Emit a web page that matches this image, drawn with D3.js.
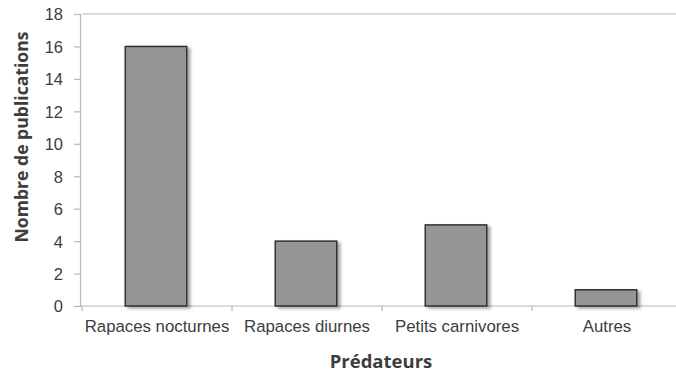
<!DOCTYPE html>
<html>
<head>
<meta charset="utf-8">
<script src="https://cdn.jsdelivr.net/npm/d3@7"></script>
<style>
  html, body { margin: 0; padding: 0; background: #fff; }
  svg { display: block; font-family: "Open Sans", "Noto Sans", sans-serif; }
</style>
</head>
<body>
<svg id="chart" width="676" height="376"></svg>
<script>
// Publications par type de prédateur
const categories = ["Rapaces nocturnes", "Rapaces diurnes", "Petits carnivores", "Autres"];
const publications = [16, 4, 5, 1];
const yTicks = [0, 2, 4, 6, 8, 10, 12, 14, 16, 18];
const xTitle = "Prédateurs";
const yTitle = "Nombre de publications";

const svg = d3.select("#chart");
const margin = { left: 82, right: -6, top: 14, bottom: 70 };
const W = 676, H = 376;
const plotRight = W - margin.right;
const plotBottom = H - margin.bottom; // y = 306

const x = d3.scaleBand()
  .domain(categories)
  .range([margin.left, plotRight])
  .paddingInner(0.59)
  .paddingOuter(0.295);

const y = d3.scaleLinear()
  .domain([0, 18])
  .range([plotBottom, margin.top]);

// soft shadow under bars
const defs = svg.append("defs");
const f = defs.append("filter").attr("id", "shadow")
  .attr("x", "-20%").attr("y", "-20%").attr("width", "150%").attr("height", "150%");
f.append("feDropShadow")
  .attr("dx", 3).attr("dy", 2).attr("stdDeviation", 1.6)
  .attr("flood-color", "#000").attr("flood-opacity", 0.35);

const textColor = "#3d3d3d";
const axisColor = "#b8b8b8";

// top gridline (max value)
svg.append("line")
  .attr("x1", margin.left).attr("x2", W)
  .attr("y1", y(18)).attr("y2", y(18))
  .attr("stroke", axisColor).attr("stroke-width", 1.2);

// y axis
const yAxis = svg.append("g")
  .attr("transform", `translate(${margin.left - 2},0)`)
  .call(d3.axisLeft(y).tickValues(yTicks).tickSize(6).tickPadding(11).tickFormat(d3.format("d")));
yAxis.select(".domain").attr("stroke", axisColor).attr("stroke-width", 1.2);
yAxis.selectAll(".tick line").attr("stroke", axisColor).attr("stroke-width", 1.2);
yAxis.selectAll(".tick text")
  .attr("fill", textColor).style("font-size", "16.5px").attr("dy", "0.36em");

// x axis
const xAxis = svg.append("g")
  .attr("transform", `translate(0,${plotBottom})`)
  .call(d3.axisBottom(x).tickSize(0).tickPadding(14));
xAxis.select(".domain").attr("stroke", axisColor).attr("stroke-width", 1.2)
  .attr("d", `M${margin.left - 2},0H${W}`);
xAxis.selectAll(".tick text")
  .attr("fill", textColor).style("font-size", "16.8px");

// category separators on x axis
const step = x.step();
const sepX = d3.range(categories.length + 1).map(i => margin.left + i * step);
svg.append("g").selectAll("line").data(sepX).join("line")
  .attr("x1", d => d).attr("x2", d => d)
  .attr("y1", plotBottom).attr("y2", plotBottom + 5)
  .attr("stroke", axisColor).attr("stroke-width", 1.2);

// bars
svg.append("g").selectAll("rect")
  .data(categories.map((c, i) => ({ c, v: publications[i] })))
  .join("rect")
  .attr("x", d => x(d.c) - 1)
  .attr("y", d => y(d.v))
  .attr("width", x.bandwidth())
  .attr("height", d => y(0) - y(d.v))
  .attr("fill", "#959598")
  .attr("stroke", "#303030")
  .attr("stroke-width", 1.5)
  .attr("filter", "url(#shadow)");

// axis titles
svg.append("text")
  .attr("x", (margin.left + plotRight) / 2 - 1)
  .attr("y", 368)
  .attr("text-anchor", "middle")
  .attr("fill", textColor)
  .style("font-size", "18.5px").style("font-weight", "bold")
  .text(xTitle);

svg.append("text")
  .attr("transform", `translate(28,137) rotate(-90)`)
  .attr("text-anchor", "middle")
  .attr("fill", textColor)
  .style("font-size", "17.6px").style("font-weight", "bold")
  .text(yTitle);
</script>
</body>
</html>
